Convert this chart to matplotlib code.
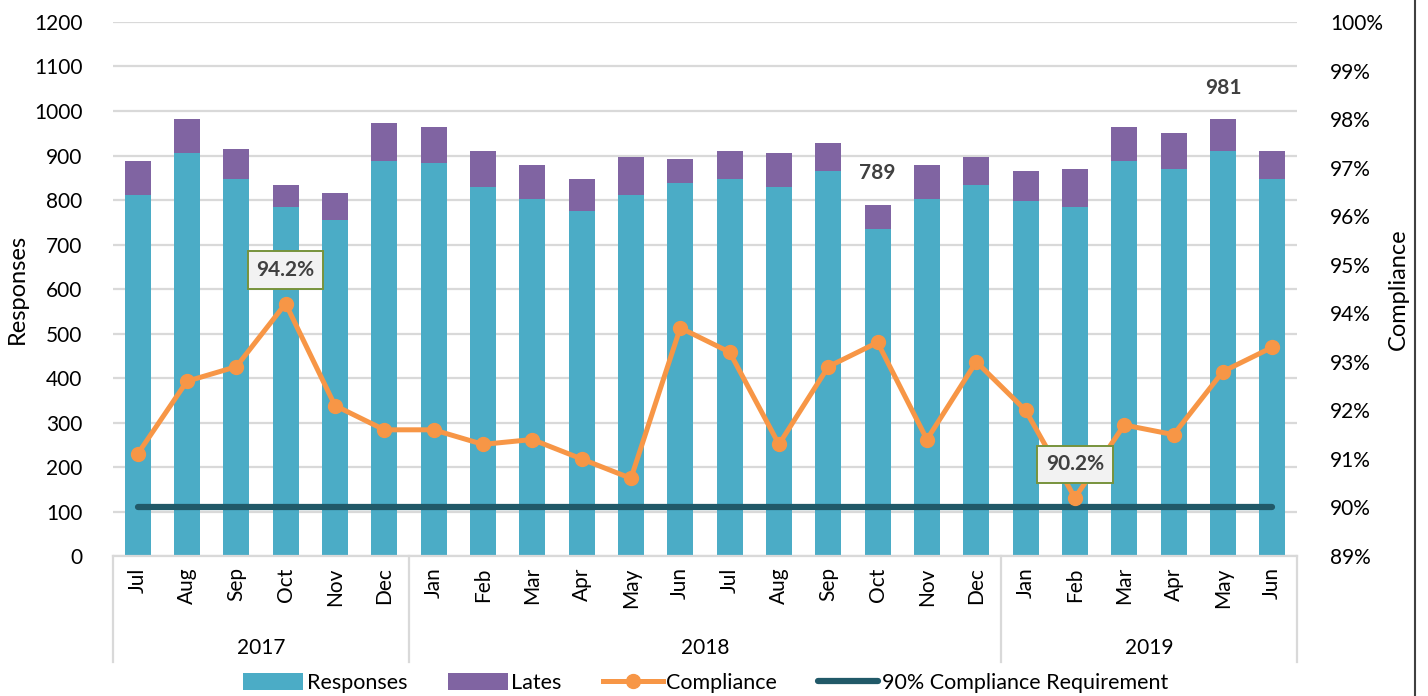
import matplotlib
matplotlib.use("Agg")
import matplotlib.pyplot as plt
from matplotlib.lines import Line2D
from matplotlib.patches import Patch
from matplotlib.transforms import blended_transform_factory
import numpy as np

plt.rcParams['font.family'] = ['Lato', 'DejaVu Sans']

# Monthly data, Jul 2017 - Jun 2019
months = ["Jul", "Aug", "Sep", "Oct", "Nov", "Dec",
          "Jan", "Feb", "Mar", "Apr", "May", "Jun",
          "Jul", "Aug", "Sep", "Oct", "Nov", "Dec",
          "Jan", "Feb", "Mar", "Apr", "May", "Jun"]
years = ["2017", "2018", "2019"]
months_per_year = [6, 12, 6]

responses = [811, 906, 847, 784, 755, 888,
             883, 829, 802, 775, 811, 838,
             847, 829, 865, 735, 802, 834,
             798, 784, 888, 870, 910, 847]
totals = [888, 982, 915, 834, 816, 973,
          964, 910, 879, 847, 897, 892,
          910, 906, 928, 789, 879, 897,
          865, 870, 964, 951, 981, 910]
lates = [t - r for t, r in zip(totals, responses)]

compliance = [91.1, 92.6, 92.9, 94.2, 92.1, 91.6,
              91.6, 91.3, 91.4, 91.0, 90.6, 93.7,
              93.2, 91.3, 92.9, 93.4, 91.4, 93.0,
              92.0, 90.2, 91.7, 91.5, 92.8, 93.3]
requirement = 90.0

# Labelled points
total_labels = {15: 789, 22: 981}
compliance_labels = {3: 94.2, 19: 90.2}

C_RESP = "#4bacc6"
C_LATE = "#8064a2"
C_COMP = "#f79646"
C_REQ = "#215968"
C_GRID = "#d9d9d9"
C_TEXT = "#404040"

fig = plt.figure(figsize=(14.28, 6.96), dpi=100)
ax = fig.add_axes([0.0791, 0.2011, 0.8291, 0.7673])
ax2 = ax.twinx()

x = np.arange(len(months))
bw = 0.53
ax.bar(x, responses, width=bw, color=C_RESP, zorder=2)
ax.bar(x, lates, width=bw, bottom=responses, color=C_LATE, zorder=2)

ax.set_xlim(-0.5, len(months) - 0.5)
ax.set_ylim(0, 1200)
ax.set_yticks(np.arange(0, 1201, 100))
ax.set_axisbelow(True)
ax.yaxis.grid(True, color=C_GRID, linewidth=1.6)
ax.tick_params(axis='y', length=0, pad=22, labelsize=15, labelcolor='black')
ax.set_xticks(x)
ax.set_xticklabels(months, rotation=90, fontsize=15)
ax.tick_params(axis='x', length=0, pad=8)
for s in ["top", "right", "left"]:
    ax.spines[s].set_visible(False)
ax.spines["bottom"].set_color(C_GRID)
ax.spines["bottom"].set_linewidth(1.6)
ax.set_ylabel("Responses", fontsize=17)
ax.yaxis.set_label_coords(-0.072, 0.5)

for i, v in total_labels.items():
    ax.annotate(str(v), (i, totals[i]), xytext=(0, 23), textcoords="offset points",
                ha="center", va="center", fontsize=15, fontweight="bold", color=C_TEXT)

# Compliance on the secondary axis
ax2.plot(x, compliance, color=C_COMP, linewidth=3.6, marker="o", markersize=10,
         zorder=3)
ax2.plot([x[0], x[-1]], [requirement, requirement], color=C_REQ, linewidth=4.5,
         solid_capstyle="round", zorder=2)
ax2.set_ylim(89, 100)
ax2.set_yticks(np.arange(89, 101, 1))
ax2.set_yticklabels([f"{v}%" for v in range(89, 101)])
ax2.tick_params(axis='y', length=0, pad=24, labelsize=15)
for s in ["top", "right", "left", "bottom"]:
    ax2.spines[s].set_visible(False)
ax2.set_ylabel("Compliance", fontsize=17)
ax2.yaxis.set_label_coords(1.077, 0.5)

for i, v in compliance_labels.items():
    ax2.annotate(f"{v:.1f}%", (i, compliance[i]), xytext=(0, 24),
                 textcoords="offset points", ha="center", va="center",
                 fontsize=15, fontweight="bold", color=C_TEXT,
                 bbox=dict(boxstyle="square,pad=0.42", facecolor="#f2f2f2",
                           edgecolor="#77933c", linewidth=1.4))

# Two-level category axis: year groups and separators
trans = blended_transform_factory(ax.transData, ax.transAxes)
start = -0.5
bounds = [start]
for n in months_per_year:
    bounds.append(bounds[-1] + n)
for b in bounds:
    ax.plot([b, b], [0, -0.199], transform=trans, color=C_GRID, linewidth=1.6,
            clip_on=False)
for yr, a, b in zip(years, bounds[:-1], bounds[1:]):
    ax.text((a + b) / 2, -0.172, yr, transform=trans, ha="center", va="center",
            fontsize=15)

# Legend
handles = [
    Patch(facecolor=C_RESP, edgecolor="none"),
    Patch(facecolor=C_LATE, edgecolor="none"),
    Line2D([0], [0], color=C_COMP, linewidth=3.6, marker="o", markersize=10),
    Line2D([0], [0], color=C_REQ, linewidth=4.5, solid_capstyle="round"),
]
labels = ["Responses", "Lates", "Compliance", "90% Compliance Requirement"]
fig.legend(handles, labels, loc="center", bbox_to_anchor=(0.494, 0.019), ncol=4,
           frameon=False, fontsize=15.5, handlelength=2.8, handleheight=0.9,
           handletextpad=0.15, columnspacing=1.9)

# Frame edge on the right
fig.add_artist(Line2D([1415 / 1428, 1415 / 1428], [0, 1], transform=fig.transFigure,
                      color="#404040", linewidth=1.5))

fig.savefig("out.png", dpi=100)
